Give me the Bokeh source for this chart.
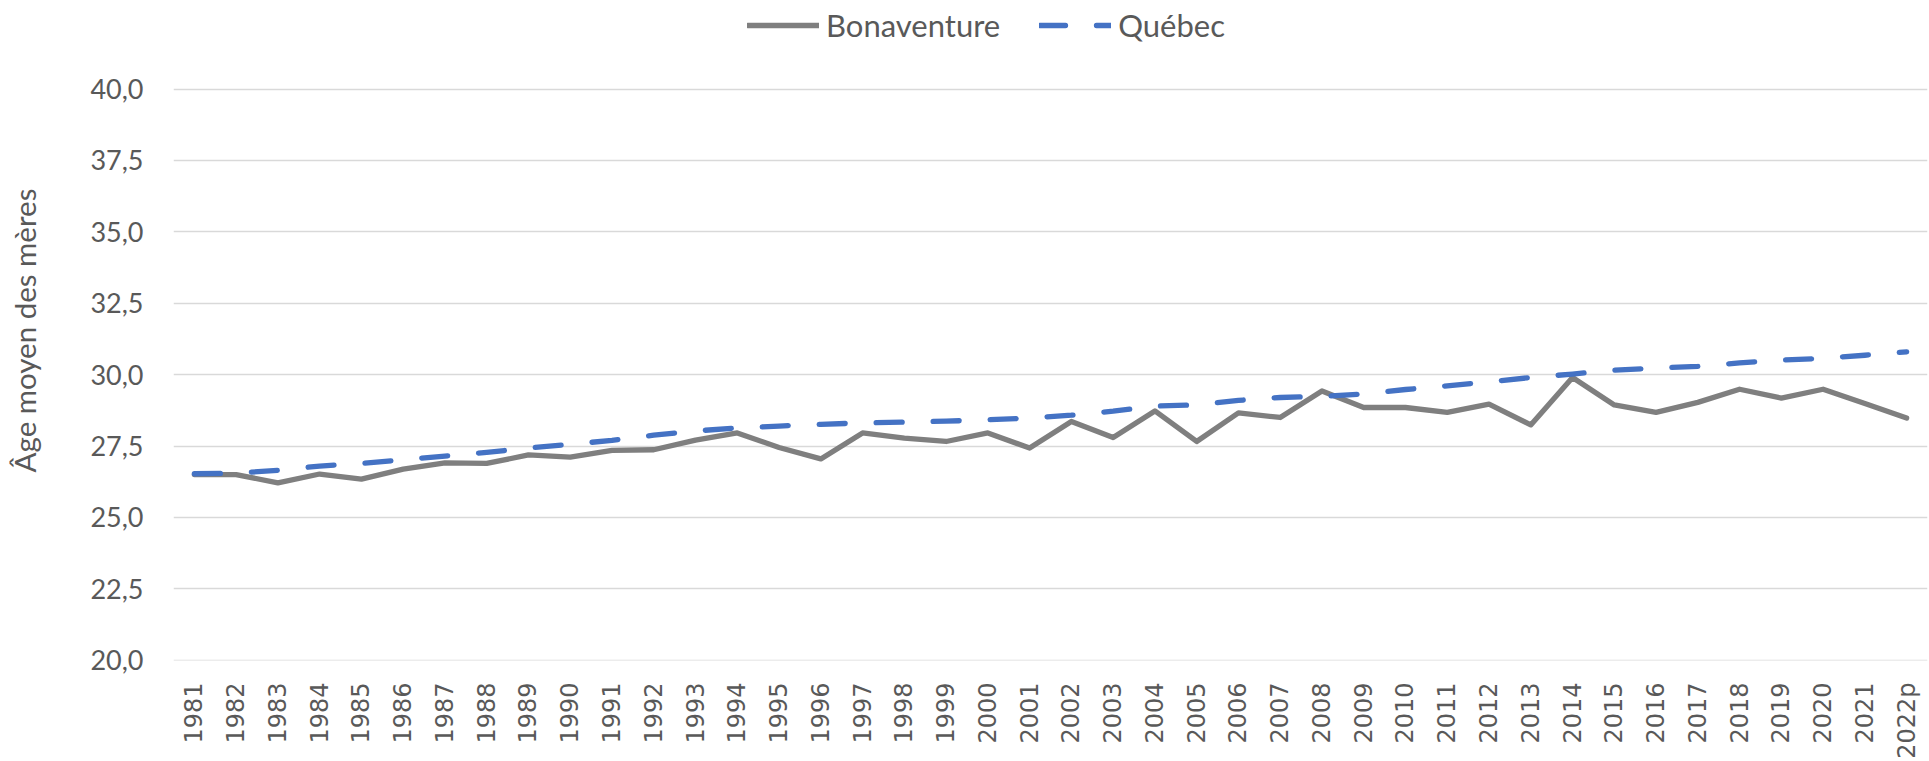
import math
from bokeh.plotting import figure
from bokeh.models import FactorRange, Range1d, FixedTicker, Legend, LegendItem
from bokeh.embed import file_html
from bokeh.resources import INLINE

years = [str(y) for y in range(1981, 2022)] + ["2022p"]

bonaventure = [26.50, 26.50, 26.21, 26.52, 26.34, 26.69, 26.91, 26.89, 27.19, 27.11,
               27.35, 27.37, 27.71, 27.96, 27.45, 27.05, 27.96, 27.78, 27.66, 27.96,
               27.43, 28.36, 27.80, 28.73, 27.66, 28.66, 28.50, 29.43, 28.85, 28.85,
               28.68, 28.97, 28.24, 29.90, 28.94, 28.68, 29.03, 29.49, 29.18, 29.49,
               28.99, 28.48]

quebec = [26.53, 26.55, 26.65, 26.80, 26.89, 27.02, 27.15, 27.28, 27.43, 27.56,
          27.70, 27.88, 28.03, 28.13, 28.20, 28.26, 28.31, 28.34, 28.37, 28.42,
          28.48, 28.58, 28.72, 28.90, 28.94, 29.10, 29.20, 29.24, 29.32, 29.48,
          29.61, 29.75, 29.90, 30.02, 30.16, 30.23, 30.29, 30.41, 30.51, 30.57,
          30.68, 30.80]

y_ticks = [20.0, 22.5, 25.0, 27.5, 30.0, 32.5, 35.0, 37.5, 40.0]
y_labels = ["20,0", "22,5", "25,0", "27,5", "30,0", "32,5", "35,0", "37,5", "40,0"]

series_names = ["Bonaventure", "Québec"]
y_title = "Âge moyen des mères"

TEXT = "#595959"

# frame spans the legend band too; the 20-40 value band sits in its lower part
p = figure(x_range=FactorRange(factors=years), y_range=Range1d(19.99, 43.1025),
           frame_width=1754, frame_height=660, output_backend="svg",
           toolbar_location=None,
           min_border_left=173, min_border_right=2, min_border_top=0,
           min_border_bottom=101)
p.outline_line_color = None
p.background_fill_color = "white"
p.border_fill_color = "white"

p.xgrid.grid_line_color = None
p.ygrid.grid_line_color = "#D9D9D9"
p.ygrid.grid_line_width = 1.5
p.yaxis.ticker = FixedTicker(ticks=y_ticks)
p.ygrid.ticker = FixedTicker(ticks=y_ticks)
p.yaxis.major_label_overrides = {t: l for t, l in zip(y_ticks, y_labels)}

for ax in (p.xaxis[0], p.yaxis[0]):
    ax.axis_line_color = None
    ax.major_tick_line_color = None
    ax.minor_tick_line_color = None
    ax.major_tick_out = 0
    ax.major_tick_in = 0
    ax.minor_tick_out = 0
    ax.major_label_text_color = TEXT

p.yaxis.major_label_text_font = "Lato"
p.yaxis.major_label_text_font_size = "27px"
p.yaxis.major_label_standoff = 30
p.yaxis.axis_label = y_title
p.yaxis.axis_label_text_font = "Lato"
p.yaxis.axis_label_text_font_size = "29.5px"
p.yaxis.axis_label_text_font_style = "normal"
p.yaxis.axis_label_text_color = TEXT
p.yaxis.axis_label_standoff = 45

p.xaxis.major_label_text_font = "DejaVu Sans"
p.xaxis.major_label_text_font_size = "24px"
p.xaxis.major_label_orientation = math.pi / 2
p.xaxis.major_label_standoff = 22

r1 = p.line(years, bonaventure, line_color="#7F7F7F", line_width=5.3,
            line_join="round", line_cap="round")
r2 = p.line(years, quebec, line_color="#4472C4", line_width=5.3,
            line_dash="26 31", line_join="round", line_cap="round")

legend = Legend(items=[LegendItem(label=series_names[0], renderers=[r1]),
                       LegendItem(label=series_names[1], renderers=[r2])],
                orientation="horizontal", location=(574, 616),
                glyph_width=72, glyph_height=30, label_standoff=7, spacing=39,
                padding=0, margin=0, border_line_color=None,
                background_fill_alpha=0, label_text_font="Lato",
                label_text_font_size="31px", label_text_color=TEXT)
p.add_layout(legend)

open("out.html", "w").write(file_html(p, INLINE))
